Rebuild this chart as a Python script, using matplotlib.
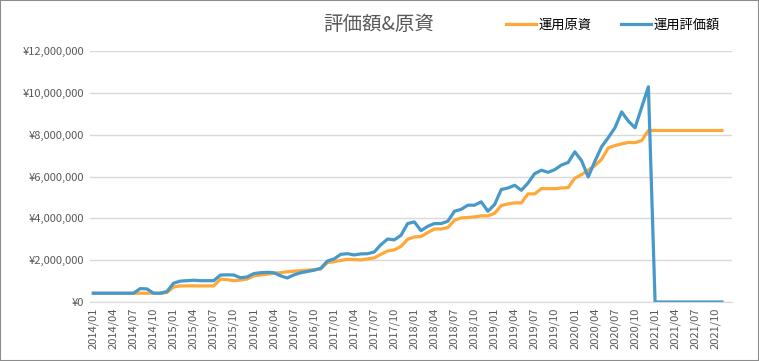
import matplotlib.pyplot as plt
from matplotlib.patches import Rectangle
from matplotlib.ticker import FuncFormatter

plt.rcParams['font.family'] = ['Noto Sans CJK JP', 'DejaVu Sans']

# months 2014/01 .. 2021/12
months = [f"{y}/{m:02d}" for y in range(2014, 2022) for m in range(1, 13)]

# 運用原資 (principal), yen
principal = [
    420000, 420000, 420000, 420000, 420000, 420000, 420000, 420000, 420000, 420000,
    420000, 450000, 720000, 770000, 770000, 770000, 770000, 770000, 770000, 1090000,
    1070000, 1020000, 1050000, 1100000, 1250000, 1290000, 1330000, 1380000, 1400000, 1450000,
    1470000, 1500000, 1520000, 1550000, 1580000, 1880000, 1930000, 1990000, 2040000, 2030000,
    2010000, 2060000, 2110000, 2280000, 2440000, 2490000, 2660000, 3000000, 3110000, 3130000,
    3320000, 3490000, 3490000, 3560000, 3910000, 4020000, 4040000, 4070000, 4120000, 4120000,
    4240000, 4610000, 4690000, 4740000, 4740000, 5170000, 5170000, 5420000, 5420000, 5420000,
    5450000, 5470000, 5920000, 6090000, 6310000, 6520000, 6820000, 7370000, 7480000, 7560000,
    7630000, 7620000, 7720000, 8200000, 8200000, 8200000, 8200000, 8200000, 8200000, 8200000,
    8200000, 8200000, 8200000, 8200000, 8200000,
]

# 運用評価額 (valuation), yen
valuation = [
    420000, 420000, 420000, 420000, 420000, 420000, 420000, 640000, 630000, 420000,
    420000, 500000, 900000, 1000000, 1020000, 1040000, 1020000, 1020000, 1020000, 1290000,
    1300000, 1290000, 1160000, 1200000, 1360000, 1400000, 1420000, 1400000, 1250000, 1150000,
    1300000, 1400000, 1460000, 1520000, 1610000, 1960000, 2060000, 2280000, 2310000, 2250000,
    2300000, 2310000, 2390000, 2740000, 3010000, 2970000, 3190000, 3750000, 3830000, 3410000,
    3620000, 3750000, 3750000, 3860000, 4340000, 4430000, 4630000, 4630000, 4790000, 4340000,
    4660000, 5380000, 5450000, 5580000, 5340000, 5690000, 6140000, 6300000, 6200000, 6330000,
    6550000, 6670000, 7180000, 6760000, 5980000, 6730000, 7420000, 7860000, 8330000, 9090000,
    8650000, 8330000, 9310000, 10290000, 0, 0, 0, 0, 0, 0,
    0, 0, 0, 0, 0,
]

fig = plt.figure(figsize=(7.59, 3.61), dpi=100)
ax = fig.add_axes([0.1186, 0.1634, 0.8458, 0.6953])

ax.plot(range(len(principal)), principal, color='#FFA83A', lw=2.3, label='運用原資',
        solid_joinstyle='round')
ax.plot(range(len(valuation)), valuation, color='#4699C8', lw=2.3, label='運用評価額',
        solid_joinstyle='round')

ax.set_xlim(-0.5, len(months) - 0.5)
ax.set_ylim(0, 12000000)
ax.set_yticks(range(0, 12000001, 2000000))
ax.yaxis.set_major_formatter(FuncFormatter(lambda v, p: f"¥{int(v):,}"))
ax.set_xticks(range(0, len(months), 3))
ax.set_xticklabels(months[::3], rotation=90)
ax.tick_params(length=0, labelsize=8, labelcolor='#595959', pad=4)
ax.grid(axis='y', color='#d9d9d9', lw=1)
ax.set_axisbelow(True)
for s in ['top', 'right', 'left']:
    ax.spines[s].set_visible(False)
ax.spines['bottom'].set_color('#d9d9d9')

fig.text(379 / 759, 1 - 25 / 361, '評価額&原資', ha='center', va='center',
         fontsize=14, color='#595959')
ax.legend(loc='center', bbox_to_anchor=(613 / 759, 1 - 25 / 361),
          bbox_transform=fig.transFigure, ncol=2, frameon=False, fontsize=9.5,
          handlelength=2.3, columnspacing=2.2, handletextpad=0.2)

fig.patches.append(Rectangle((0, 0), 1, 1, transform=fig.transFigure, fill=False,
                             edgecolor='#8c8c8c', lw=1.5))

fig.savefig('out.png', dpi=100)
